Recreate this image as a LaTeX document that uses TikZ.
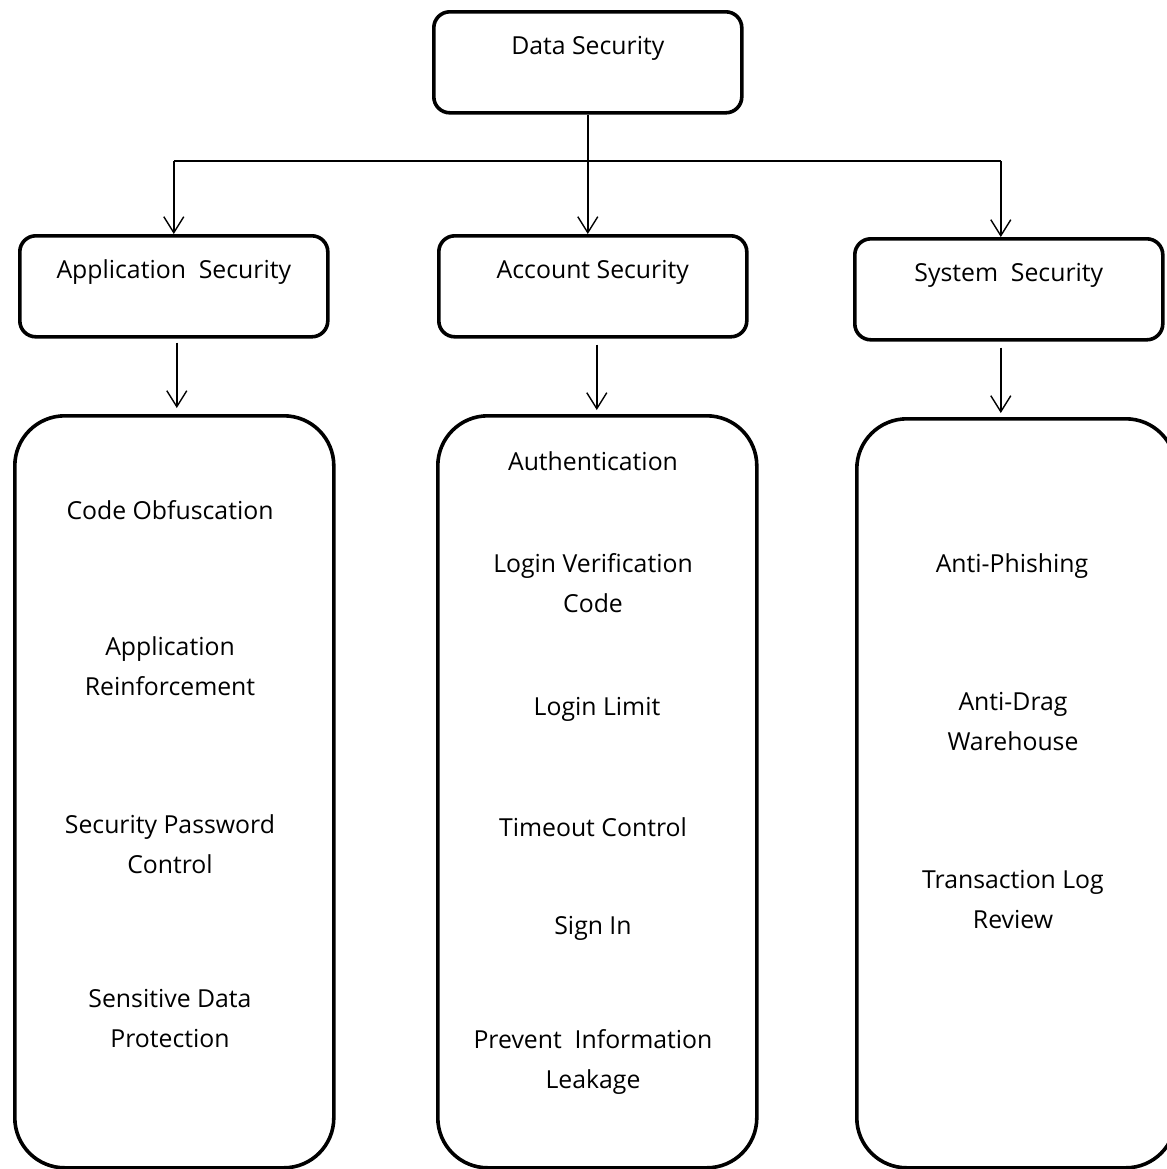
\documentclass[tikz,border=0pt]{standalone}
\usepackage{fontspec}
\setmainfont{Open Sans}
\usetikzlibrary{arrows.meta, positioning}
\tikzset{
  headbox/.style={draw, line width=1.8pt, rounded corners=8pt, inner sep=0pt,
    minimum width=154pt, text height=21.5pt, text depth=29pt, anchor=north west,
    font=\fontsize{12.4}{20}\selectfont},
  listbox/.style={draw, line width=1.8pt, rounded corners=25pt, inner sep=0pt,
    minimum width=159.5pt, minimum height=376pt, anchor=north west},
  item/.style={align=center, font=\fontsize{12.4}{20}\selectfont},
  arr/.style={line width=0.7pt, -{Straight Barb[length=8pt,width=10pt]}},
  link/.style={line width=0.7pt}
}

\begin{document}
\begin{tikzpicture}[x=0.5pt, y=-0.5pt]
  \useasboundingbox (0,0) rectangle (1167,1169);

  % top level
  \node[headbox] (ds) at (432,10) {Data Security};

  % second level
  \node[headbox] (apps) at (18,234) {Application\ \ Security};
  \node[headbox] (accs) at (437,234) {Account Security};
  \node[headbox] (syss) at (853,237) {System\ \ Security};

  % lists
  \node[listbox] (applist) at (13,414) {};
  \node[listbox] (acclist) at (436,414) {};
  \node[listbox, minimum height=374.5pt] (syslist) at (855,417) {};

  \node[item] (obf) at (170,510) {Code Obfuscation};
  \node[item] (reinf) at (170,666) {Application\\Reinforcement};
  \node[item] (pwd) at (170,844) {Security Password\\Control};
  \node[item] (sens) at (170,1019) {Sensitive Data\\Protection};

  \node[item] (auth) at (593,461) {Authentication};
  \node[item] (vcode) at (593,583) {Login Verification\\Code};
  \node[item] (limit) at (597,709) {Login Limit};
  \node[item] (tout) at (593,827) {Timeout Control};
  \node[item] (sign) at (593,928) {Sign In};
  \node[item] (leak) at (593,1062) {Prevent\ \ Information\\Leakage};

  \node[item] (phish) at (1012,566) {Anti-Phishing};
  \node[item] (drag) at (1013,722) {Anti-Drag\\Warehouse};
  \node[item] (tlog) at (1013,900) {Transaction Log\\Review};

  % connectors
  \coordinate (split) at (587,161);
  \coordinate (sysin) at ([xshift=-4pt]syss.north);
  \coordinate (sysout) at ([xshift=-4pt]syss.south);
  \draw[link] (apps.north |- split) -- (sysin |- split);
  \draw[arr] (ds.south) -- (ds.south |- accs.north);
  \draw[arr] (apps.north |- split) -- (apps.north);
  \draw[arr] (sysin |- split) -- (sysin);

  \draw[arr, shorten <=2pt, shorten >=3pt] ([xshift=1.5pt]apps.south) -- ([xshift=1.5pt]apps.south |- applist.north);
  \draw[arr, shorten <=3pt, shorten >=2pt] ([xshift=2pt]accs.south) -- ([xshift=2pt]accs.south |- acclist.north);
  \draw[arr, shorten <=3pt, shorten >=2pt] (sysout) -- (sysout |- syslist.north);
\end{tikzpicture}
\end{document}
